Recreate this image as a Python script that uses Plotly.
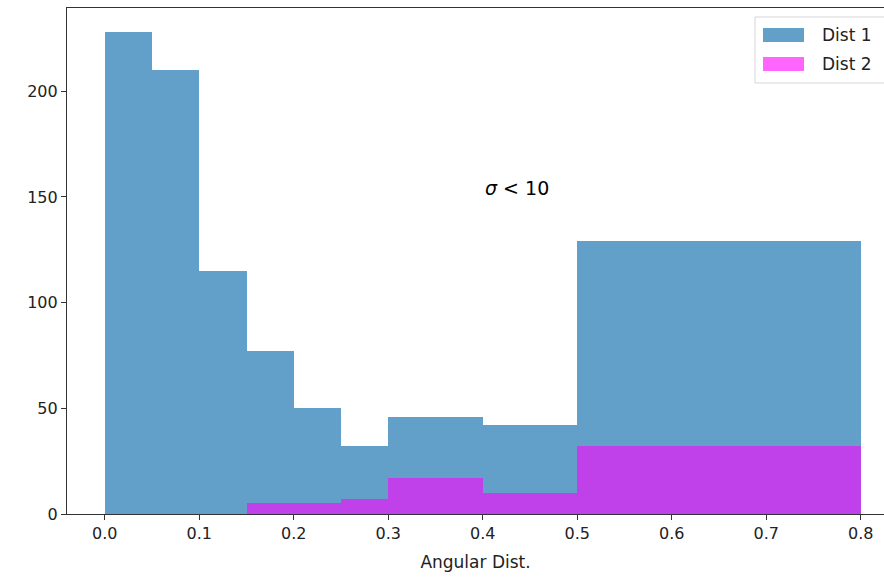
import plotly.graph_objects as go

bin_edges = [0.0, 0.05, 0.10, 0.15, 0.20, 0.25, 0.30, 0.40, 0.50, 0.80]
dist1_counts = [228, 210, 115, 77, 50, 32, 46, 42, 129]
dist2_counts = [0, 0, 0, 5, 5, 7, 17, 10, 32]
series_names = ["Dist 1", "Dist 2"]
series_colors = ["rgba(31,119,180,0.7)", "rgba(255,0,255,0.6)"]
x_ticks = [0.0, 0.1, 0.2, 0.3, 0.4, 0.5, 0.6, 0.7, 0.8]
y_ticks = [0, 50, 100, 150, 200]

centers = [(a + b) / 2 for a, b in zip(bin_edges[:-1], bin_edges[1:])]
widths = [b - a for a, b in zip(bin_edges[:-1], bin_edges[1:])]

W, H = 884, 577
L, R, T, B = 67, 0, 8, 63
PW, PH = W - L - R, H - T - B


def px(x):
    return (x - L) / PW


def py(y):
    return (H - B - y) / PH


fig = go.Figure()
for name, counts, col in zip(series_names, [dist1_counts, dist2_counts], series_colors):
    fig.add_trace(go.Bar(x=centers, y=counts, width=widths, name=name,
                         marker=dict(color=col, line=dict(width=0))))

fig.add_annotation(x=0.4, y=150, text="<i>σ</i> < 10", showarrow=False,
                   xanchor="left", yanchor="bottom", yshift=-4,
                   font=dict(family="DejaVu Sans", size=19, color="black"))

# matplotlib-style legend (box runs past right edge like the reference)
fig.add_shape(type="rect", xref="paper", yref="paper",
              x0=px(755), x1=px(900), y0=py(83), y1=py(17),
              line=dict(color="#d6d6d6", width=1), fillcolor="rgba(255,255,255,0.8)",
              layer="above")
for i, (name, col) in enumerate(zip(series_names, series_colors)):
    top = 28 + i * 29
    fig.add_shape(type="rect", xref="paper", yref="paper",
                  x0=px(763), x1=px(804), y0=py(top + 14), y1=py(top),
                  line=dict(width=0), fillcolor=col, layer="above")
    fig.add_annotation(xref="paper", yref="paper", x=px(820), y=py(top + 7),
                       text=name, showarrow=False, xanchor="left", yanchor="middle",
                       font=dict(family="DejaVu Sans", size=17, color="#222"))

px_per_unit = (861 - 105) / 0.8
x_min = -0.04
x_max = x_min + PW / px_per_unit

fig.update_layout(
    width=W, height=H,
    margin=dict(l=L, r=R, t=T, b=B),
    plot_bgcolor="white", paper_bgcolor="white",
    barmode="overlay", bargap=0,
    font=dict(family="DejaVu Sans", size=16, color="#222"),
    showlegend=False,
    xaxis=dict(range=[x_min, x_max], tickvals=x_ticks, tickformat=".1f",
               ticks="outside", ticklen=5, tickwidth=1.2, tickcolor="#333",
               showline=True, linecolor="#333", linewidth=1.2, mirror=True,
               showgrid=False, zeroline=False,
               title=dict(text="Angular Dist.", font=dict(size=17, color="#222"), standoff=13)),
    yaxis=dict(range=[0, 239.4], tickvals=y_ticks,
               ticks="outside", ticklen=5, tickwidth=1.2, tickcolor="#333",
               showline=True, linecolor="#333", linewidth=1.2, mirror=False,
               showgrid=False, zeroline=False),
)

fig.write_html("out.html")
